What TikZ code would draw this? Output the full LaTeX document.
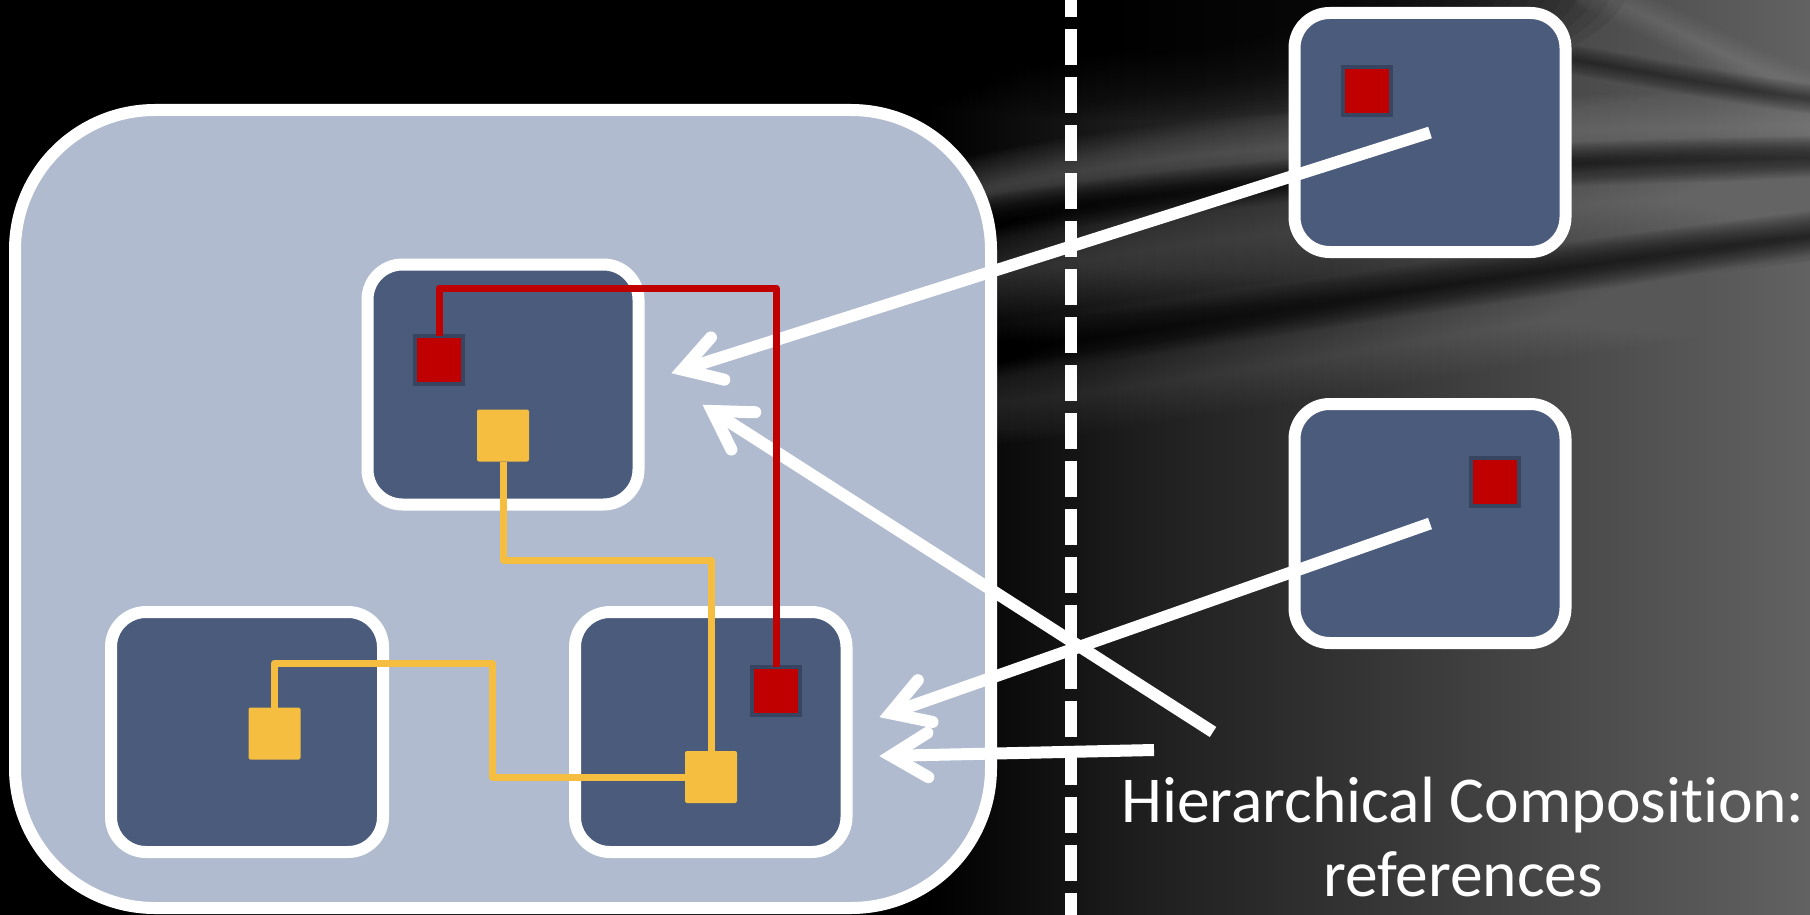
\documentclass[tikz,border=0pt]{standalone}
\usepackage{fontspec}
\setmainfont{Carlito}[Ligatures={NoCommon}]
\usetikzlibrary{calc}

\definecolor{panel}{RGB}{176,187,207}
\definecolor{cell}{RGB}{74,91,124}
\definecolor{portred}{RGB}{192,0,0}
\definecolor{portrim}{RGB}{56,69,96}
\definecolor{portgold}{RGB}{246,190,65}
\definecolor{bgA}{RGB}{30,30,30}
\definecolor{bgB}{RGB}{98,98,98}
\definecolor{streak}{RGB}{150,150,150}

% the shaded path spans 25bp..75bp of the shading
\pgfdeclarehorizontalshading{backdrop}{100bp}{color(0bp)=(black); color(25bp)=(black);
  color(37bp)=(bgA); color(75bp)=(bgB); color(100bp)=(bgB)}

% a blurred stroke: stacked strokes of growing width
\newcommand{\softstroke}[4]{%
  \foreach \k in {1,...,16}{%
    \pgfmathsetmacro{\lw}{#2*\k/16}%
    \draw[#1, line width=\lw pt, opacity=#3, line cap=round] #4;%
  }%
}

\tikzset{
  cellbox/.style={draw=white, line width=12pt, fill=cell, rounded corners=35pt,
    minimum width=271pt, minimum height=240pt, inner sep=0pt, outer sep=0pt},
  redport/.style={draw=portrim, line width=4pt, fill=portred, minimum size=48pt,
    inner sep=0pt, outer sep=0pt},
  goldport/.style={fill=portgold, minimum size=52pt, inner sep=0pt, outer sep=0pt,
    rounded corners=2pt},
  redwire/.style={draw=portred, line width=7pt, line join=round},
  goldwire/.style={draw=portgold, line width=7pt, line join=round},
  refline/.style={draw=white, line width=12pt},
  refhead/.style={draw=white, line width=12pt, line cap=round, line join=miter},
  caption/.style={text=white, font=\fontsize{65.5}{74}\selectfont, anchor=base,
    inner sep=0pt},
}

\begin{document}
\begin{tikzpicture}[x=1pt, y=-1pt]
\useasboundingbox (0,0) rectangle (1810,915);
\begin{scope}
\clip (0,0) rectangle (1810,915);

% backdrop: black, turning to grey towards the right
\fill[black] (0,0) rectangle (1810,915);
\shade[shading=backdrop] (930,0) rectangle (1810,915);

% dark top-left corner of the grey area
\foreach \k in {0,...,19}{
  \fill[black, opacity=0.07] (1150,-20) ellipse ({480-\k*16} and {140-\k*3.5});
}

% swoosh streaks converging towards the right edge
\softstroke{streak}{70}{0.03}{(940,200) .. controls (1150,145) and (1500,128) .. (1820,126)}
\softstroke{black}{44}{0.05}{(940,225) .. controls (1200,180) and (1500,162) .. (1820,158)}
\softstroke{streak}{90}{0.02}{(940,285) .. controls (1200,235) and (1500,205) .. (1820,192)}
\softstroke{black}{50}{0.05}{(940,360) .. controls (1200,325) and (1450,280) .. (1820,235)}
\softstroke{streak}{80}{0.016}{(940,410) .. controls (1200,385) and (1450,330) .. (1820,280)}
\softstroke{streak}{40}{0.025}{(1590,-10) .. controls (1680,30) and (1750,70) .. (1820,95)}
\softstroke{black}{30}{0.03}{(1575,60) .. controls (1660,75) and (1740,90) .. (1820,100)}

% vertical dashed divider
\draw[white, line width=12pt, dash pattern=on 36pt off 12pt] (1071,-19) -- (1071,915);

% composite component and its parts
\node[draw=white, line width=12pt, fill=panel, rounded corners=140pt,
      minimum width=976pt, minimum height=798pt, inner sep=0pt] (frame) at (503,509) {};
\node[cellbox] (top) at (503,384.5) {};
\node[cellbox, minimum width=272pt] (bl) at (247,732) {};
\node[cellbox, minimum width=271.5pt] (br) at (710.75,732) {};

% referenced components
\node[cellbox, minimum height=239pt] (rt) at (1430,132.5) {};
\node[cellbox, minimum height=239pt] (rb) at (1430,523.5) {};

% reference arrows
\coordinate (a1v) at (682.5,369.7);
\coordinate (a2s) at (1213,732);
\coordinate (a2v) at (712.3,411);
\coordinate (a3v) at (890.4,713.3);
\coordinate (a4s) at (1154,750);
\coordinate (a4v) at (891,755.8);

\draw[refline] (rt.center) -- (a1v);
\draw[refhead] ($(a1v)!43pt!31:(rt.center)$) -- (a1v) -- ($(a1v)!43pt!-31:(rt.center)$);
\draw[refline] (a2s) -- (a2v);
\draw[refhead] ($(a2v)!43pt!31:(a2s)$) -- (a2v) -- ($(a2v)!43pt!-31:(a2s)$);
\draw[refline] (rb.center) -- (a3v);
\draw[refhead] ($(a3v)!43pt!31:(rb.center)$) -- (a3v) -- ($(a3v)!43pt!-31:(rb.center)$);
\draw[refline] (a4s) -- (a4v);
\draw[refhead] ($(a4v)!43pt!31:(a4s)$) -- (a4v) -- ($(a4v)!43pt!-31:(a4s)$);

% ports
\node[redport] (p1) at (439,359.5) {};
\node[goldport] (y1) at (503,435.5) {};
\node[goldport] (y2) at (274.5,733.5) {};
\node[goldport] (y3) at (711,777) {};
\node[redport] (r2) at (776,690.5) {};
\node[redport] (r3) at (1367,91.5) {};
\node[redport] (r4) at (1495,482) {};

% internal wiring
\draw[redwire] (p1.north) -- ++(0,-47.5) -| (r2.north);
\draw[goldwire] (y1.south) -- ++(0,98.5) -| (y3.north);
\draw[goldwire] (y2.north) -- ++(0,-44.5) -- ++(218,0) |- (y3.west);

% caption
\node[caption] (cap1) at (1463,822) {Hierarchical Composition:};
\node[caption] (cap2) at (1463,896) {references};
\end{scope}
\end{tikzpicture}
\end{document}
